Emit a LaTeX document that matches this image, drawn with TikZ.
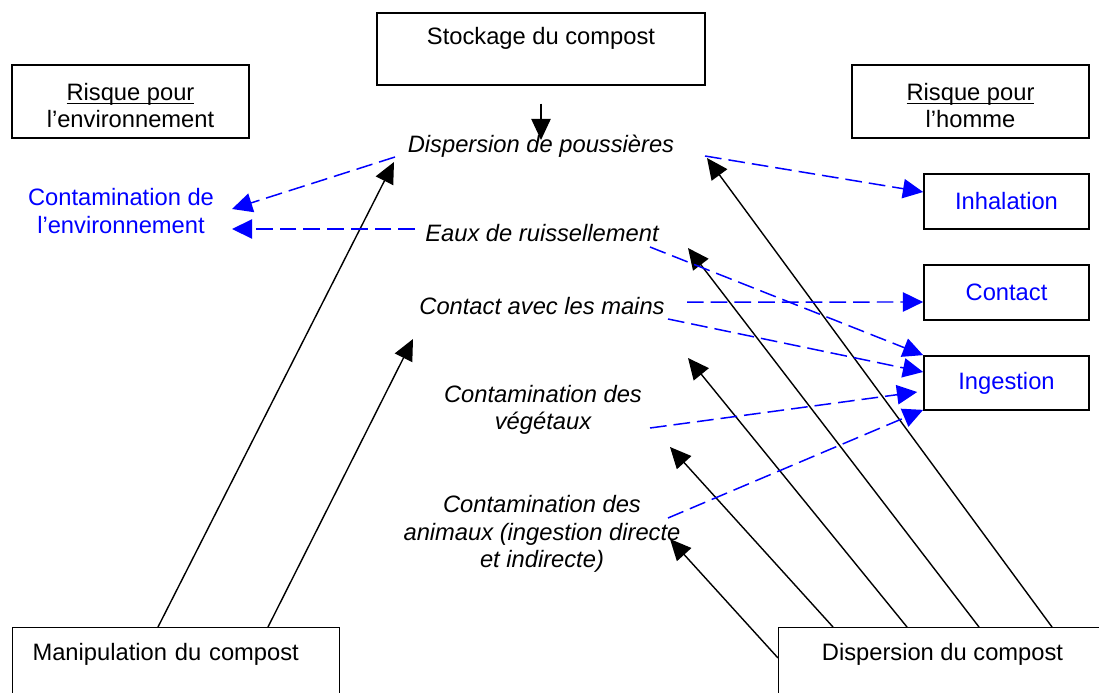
\documentclass[tikz,border=0pt]{standalone}
\usepackage{fontspec}
\setmainfont{Liberation Sans}
\usepackage{amsmath}
\usepackage{tikz}
\usetikzlibrary{calc,arrows.meta}

\begin{document}
\begin{tikzpicture}[x=0.02cm,y=-0.02cm,
  every node/.style={font=\fontsize{13.5pt}{15.6pt}\selectfont},
  box/.style={draw,line width=1pt,inner sep=0pt},
  lbl/.style={inner sep=0pt,align=center,font=\fontsize{13.5pt}{15.6pt}\selectfont\itshape},
  cause/.style={-{Triangle[length=12pt,width=11pt]},line width=0.8pt},
  risk/.style={-{Triangle[length=11.5pt,width=11pt]},blue,line width=0.85pt,dash pattern=on 9.5pt off 4pt}]
  \useasboundingbox (0,0) rectangle (1099,693);
  \clip (0,0) rectangle (1099,693);
  \node[box,minimum width=6.56cm,text height=0.64cm,text depth=0.8cm,anchor=north] (stock) at (541,12) {Stockage du compost};
  \node[box,minimum width=4.74cm,minimum height=1.46cm,align=center] (envR) at (130.5,101.5) {\rule{0pt}{0.5cm}\underline{\smash[b]{Risque pour}}\\l’environnement};
  \node[box,minimum width=4.74cm,minimum height=1.46cm,align=center] (homR) at (970.5,101.5) {\rule{0pt}{0.5cm}\underline{\smash[b]{Risque pour}}\\l’homme};
  \node[box,text=blue,minimum width=3.3cm,minimum height=1.1cm] (inhal) at (1006.5,201.5) {Inhalation};
  \node[box,text=blue,minimum width=3.3cm,minimum height=1.1cm] (contact) at (1006.5,292.5) {Contact};
  \node[box,text=blue,minimum width=3.3cm,minimum height=1.08cm] (ingest) at (1006.5,383) {Ingestion};
  \node[box,line width=0.6pt,anchor=north west,inner xsep=0.4cm,text width=5.74cm,align=left,text height=0.66cm,text depth=1cm] (manip) at (12,627) {Manipulation du compost};
  \node[box,line width=0.6pt,anchor=north west,minimum width=6.56cm,text height=0.66cm,text depth=1cm] (disp) at (778,627) {Dispersion du compost};
  \node[inner sep=0pt,align=center,text=blue] (envC) at (121,211) {Contamination de\\l’environnement};
  \node[lbl] (pous) at (541,146) {Dispersion de poussières};
  \node[lbl] (eaux) at (542,233) {Eaux de ruissellement};
  \node[lbl] (mains) at (542,306) {Contact avec les mains};
  \node[lbl] (veg) at (543,410) {Contamination des\\végétaux};
  \node[lbl] (anim) at (542,534) {Contamination des\\animaux (ingestion directe\\et indirecte)};
  \draw[cause] ($(stock.south)+(0,18)$) -- ($(pous)+(0,-6)$);
  \draw[cause] ($(manip.north west)+(146,0)$) -- ($(pous)+(-147,16)$);
  \draw[cause] ($(manip.north west)+(256,0)$) -- ($(mains)+(-129,33)$);
  \draw[cause] ($(disp.north west)+(274,0)$) -- ($(pous)+(166,12)$);
  \draw[cause] ($(disp.north west)+(201,0)$) -- ($(eaux)+(146,15)$);
  \draw[cause] ($(disp.north west)+(129,0)$) -- ($(mains)+(146,52)$);
  \draw[cause] ($(disp.north west)+(55,0)$) -- ($(veg)+(127,37)$);
  \draw[cause] ($(disp.north west)+(0,31)$) -- ($(anim)+(128,5)$);
  \draw[risk] ($(pous)+(-146,11)$) -- ($(envC)+(111,-2)$);
  \draw[risk] ($(eaux)+(-127,-4)$) -- ($(envC)+(111,18)$);
  \draw[risk] ($(pous)+(164,10)$) -- ($(inhal.west)+(0,-9.5)$);
  \draw[risk] ($(eaux)+(108,14)$) -- (ingest.north west);
  \draw[risk] ($(mains)+(145,-4)$) -- ($(contact.west)+(0,9.5)$);
  \draw[risk] ($(mains)+(126,13)$) -- ($(ingest.west)+(0,-11)$);
  \draw[risk] ($(veg)+(107,18)$) -- ($(ingest.west)+(-6,9)$);
  \draw[risk] ($(anim)+(126,-16)$) -- ($(ingest.south west)+(0,-1)$);
\end{tikzpicture}
\end{document}
